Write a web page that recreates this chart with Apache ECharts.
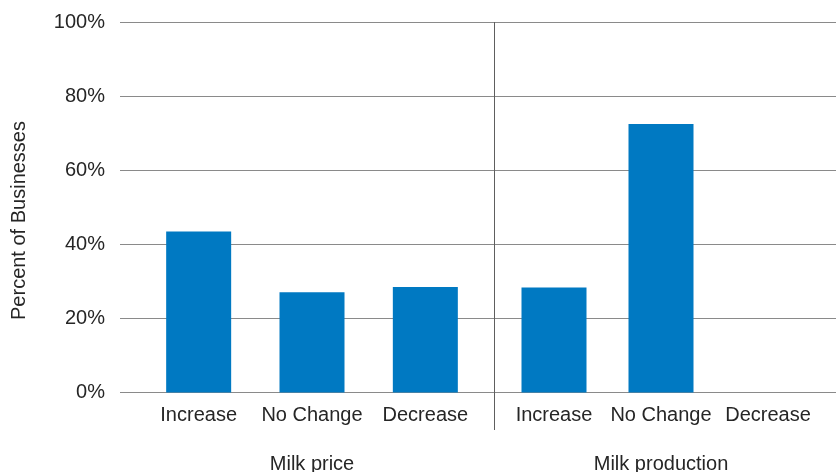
<!DOCTYPE html>
<html>
<head>
<meta charset="utf-8">
<script src="https://cdn.jsdelivr.net/npm/echarts@6/dist/echarts.min.js"></script>
<style>
html,body{margin:0;padding:0;background:#fff;}
#c{width:836px;height:472px;}
</style>
</head>
<body>
<div id="c"></div>
<script>
var categories = ['Increase', 'No Change', 'Decrease'];
var groupNames = ['Milk price', 'Milk production'];
var milkPrice = [43.5, 27.1, 28.5];
var milkProduction = [28.4, 72.6, 0];
var yTicks = [0, 20, 40, 60, 80, 100];
var yTitle = 'Percent of Businesses';

var FONT = 'Liberation Sans, Arial, sans-serif';
var TXT = '#262626';
var BLUE = '#0079C2';
var TOP = 22.5, BOTTOM = 472 - 392.5;

var chart = echarts.init(document.getElementById('c'), null, {renderer: 'canvas'});

function catAxis(gridIndex, name) {
  return {
    type: 'category', gridIndex: gridIndex, data: categories,
    axisLine: {show: false}, axisTick: {show: false},
    axisLabel: {color: TXT, fontFamily: FONT, fontSize: 20, margin: 13, interval: 0},
    name: name, nameLocation: 'middle', nameGap: 62,
    nameTextStyle: {color: TXT, fontFamily: FONT, fontSize: 20}
  };
}
function hiddenY(gridIndex) {
  return {type: 'value', gridIndex: gridIndex, min: 0, max: 100, show: false};
}
function grid(o) {
  o.top = TOP; o.bottom = BOTTOM;
  o.containLabel = false;
  o.outerBoundsMode = 'none';
  return o;
}

chart.setOption({
  animation: false,
  backgroundColor: '#fff',
  grid: [
    grid({left: 120, right: 0}),
    grid({left: 142, width: 340}),
    grid({left: 500.5, width: 321})
  ],
  xAxis: [
    {type: 'value', gridIndex: 0, show: false, min: 0, max: 1},
    catAxis(1, groupNames[0]),
    catAxis(2, groupNames[1])
  ],
  yAxis: [
    {
      type: 'value', gridIndex: 0, min: yTicks[0], max: yTicks[yTicks.length - 1],
      interval: yTicks[1] - yTicks[0],
      axisLine: {show: false}, axisTick: {show: false},
      axisLabel: {color: TXT, fontFamily: FONT, fontSize: 20, margin: 15, formatter: '{value}%'},
      splitLine: {show: true, lineStyle: {color: '#8a8a8a', width: 1}},
      name: yTitle, nameLocation: 'middle', nameGap: 91, nameRotate: 90,
      nameTextStyle: {color: TXT, fontFamily: FONT, fontSize: 20, padding: [0, 26, 0, 0]}
    },
    hiddenY(1),
    hiddenY(2)
  ],
  graphic: [
    {type: 'line', shape: {x1: 494.5, y1: 22, x2: 494.5, y2: 430},
     style: {stroke: '#5e5e5e', lineWidth: 1}, z: 10}
  ],
  series: [
    {type: 'bar', name: groupNames[0], xAxisIndex: 1, yAxisIndex: 1, data: milkPrice,
     barWidth: 65, itemStyle: {color: BLUE}, z: 5},
    {type: 'bar', name: groupNames[1], xAxisIndex: 2, yAxisIndex: 2, data: milkProduction,
     barWidth: 65, itemStyle: {color: BLUE}, z: 5}
  ]
});
</script>
</body>
</html>
